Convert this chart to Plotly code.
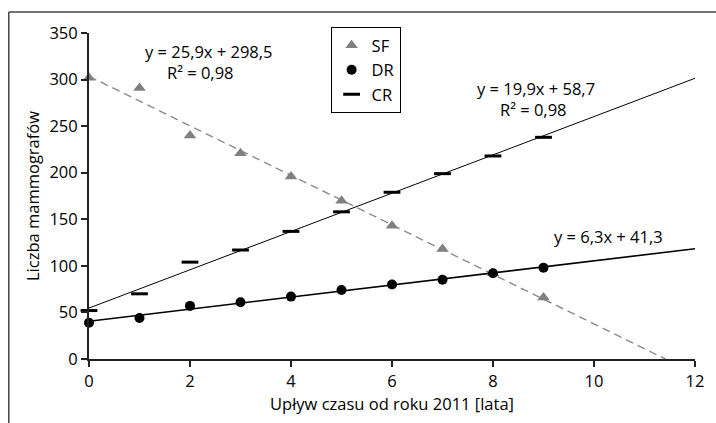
import numpy as np
import plotly.graph_objects as go

years = [0, 1, 2, 3, 4, 5, 6, 7, 8, 9]
sf = [302, 291, 240, 221, 196, 170, 143, 118, 92, 66]
dr = [39, 44, 57, 61, 67, 74, 80, 85, 92, 98]
cr = [52, 70, 104, 117, 137, 158, 179, 199, 218, 238]

FONT = "Open Sans"
FS = 16.5
fig = go.Figure()

# trend lines (least squares fit of each series)
x = np.array(years, dtype=float)
for ys, color, dash, w in [(sf, "#8c8c8c", "8px,5px", 1.4), (cr, "black", "solid", 1), (dr, "black", "solid", 1.6)]:
    m, b = np.polyfit(x, np.array(ys, dtype=float), 1)
    xe = 12.0 if m > 0 else -b / m
    fig.add_trace(go.Scatter(x=[0, xe], y=[b, b + m * xe], mode="lines",
                             line=dict(color=color, dash=dash, width=w),
                             showlegend=False, hoverinfo="skip", cliponaxis=False))

fig.add_trace(go.Scatter(x=years, y=sf, mode="markers", name="SF",
                         marker=dict(symbol="triangle-up", size=11, color="#808080"),
                         cliponaxis=False))
fig.add_trace(go.Scatter(x=years, y=dr, mode="markers", name="DR",
                         marker=dict(symbol="circle", size=10, color="black"),
                         cliponaxis=False))
fig.add_trace(go.Scatter(x=years, y=cr, mode="markers", name="CR",
                         marker=dict(symbol="line-ew", size=12, color="black",
                                     line=dict(color="black", width=3)),
                         cliponaxis=False))

PW = 612.0
ann_font = dict(family=FONT, size=FS, color="black")
anns = [
    (210, 51, "y = 25,9x + 298,5"),
    (202, 73, "R² = 0,98"),
    (540, 88, "y = 19,9x + 58,7"),
    (538, 110, "R² = 0,98"),
    (614, 236, "y = 6,3x + 41,3"),
]
for px, py, t in anns:
    fig.add_annotation(x=(px - 89) / PW, y=(359 - py) / 326, xref="paper", yref="paper",
                       text=t, showarrow=False, font=ann_font, xanchor="center", yanchor="middle")

# outer frame (top and left edges visible in the picture)
fx0 = (8 - 89) / PW
fy1 = (359 - 12) / 326
fig.add_shape(type="line", xref="paper", yref="paper", x0=fx0, x1=1.3, y0=fy1, y1=fy1,
              line=dict(color="#444444", width=1.5), layer="below")
fig.add_shape(type="line", xref="paper", yref="paper", x0=fx0, x1=fx0, y0=-0.4, y1=fy1,
              line=dict(color="#444444", width=1.5), layer="below")

fig.update_layout(
    width=716, height=423, autosize=False,
    margin=dict(l=89, r=15, t=33, b=64),
    paper_bgcolor="white", plot_bgcolor="white",
    font=dict(family=FONT, size=FS, color="black"),
    showlegend=True,
    legend=dict(x=(333 - 89) / PW, y=(359 - 27) / 326, xanchor="left", yanchor="top",
                bordercolor="black", borderwidth=1, bgcolor="white",
                font=dict(family=FONT, size=FS), tracegroupgap=0),
    xaxis=dict(range=[0, 12], tickvals=[0, 2, 4, 6, 8, 10, 12], showgrid=False, zeroline=False,
               showline=True, linecolor="#222222", linewidth=2, ticks="outside", ticklen=6,
               tickcolor="#222222", tickwidth=2, tickfont=dict(size=FS),
               title=dict(text="Upływ czasu od roku 2011 [lata]", font=dict(size=FS), standoff=6)),
    yaxis=dict(range=[0, 350], tickvals=list(range(0, 351, 50)), showgrid=False, zeroline=False,
               showline=True, linecolor="#222222", linewidth=2, ticks="outside", ticklen=6,
               tickcolor="#222222", tickwidth=2, tickfont=dict(size=FS),
               title=dict(text="Liczba mammografów", font=dict(size=FS), standoff=6)),
)

fig.write_html("out.html", config={"responsive": False},
               post_script="document.documentElement.style.overflow='hidden';document.body.style.overflow='hidden';document.body.style.margin='0';")
